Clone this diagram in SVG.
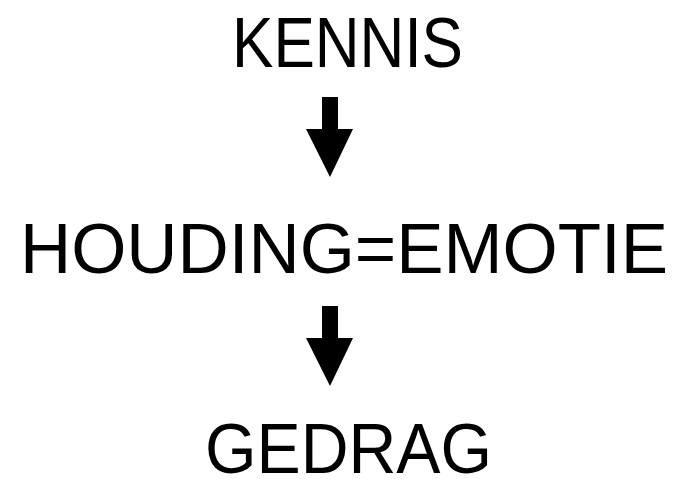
<svg xmlns="http://www.w3.org/2000/svg" width="682" height="479" viewBox="0 0 682 479">
<style>
.t{font-family:"Liberation Sans",Arial,sans-serif;font-size:71px;fill:#000;}
.a{fill:#000;}
</style>
<rect width="682" height="479" fill="#fff"/>
<g id="kennis"><text class="t" x="232" y="67" textLength="231" lengthAdjust="spacingAndGlyphs">KENNIS</text></g>
<g id="houding"><text class="t" x="20" y="273" textLength="648" lengthAdjust="spacingAndGlyphs">HOUDING=EMOTIE</text></g>
<g id="gedrag"><text class="t" x="205" y="473" textLength="287" lengthAdjust="spacingAndGlyphs">GEDRAG</text></g>
<g id="connectors">
<polygon class="a" points="322,97 338,97 338,129 353,129 330,177 306,129 322,129"/>
<polygon class="a" points="322,306 338,306 338,338 353,338 330,386 306,338 322,338"/>
</g>
</svg>
